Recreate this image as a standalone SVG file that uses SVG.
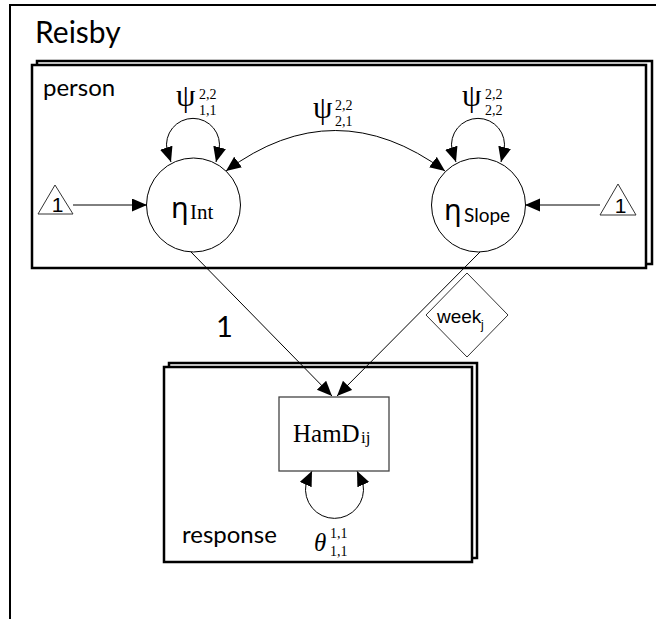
<svg xmlns="http://www.w3.org/2000/svg" width="656" height="619" viewBox="0 0 656 619">
<defs>
<style>
.plate{fill:#fff;stroke:#000;stroke-width:2.5}
.frame{fill:none;stroke:#000;stroke-width:2}
.lat{fill:#fff;stroke:#000;stroke-width:1}
.obs{fill:#fff;stroke:#444;stroke-width:1.3}
.tri{fill:#fff;stroke:#333;stroke-width:1}
.edge{fill:none;stroke:#000;stroke-width:1}
.sans{font-family:Lato,"Noto Sans",sans-serif;fill:#000}
.arial{font-family:"Liberation Sans",Arial,sans-serif;fill:#000}
.serif{font-family:"Liberation Serif","DejaVu Serif",serif;fill:#000}
.greek{font-family:"Noto Sans","DejaVu Sans",sans-serif;fill:#000}
.psi{font-size:31px}
.idx{font-size:14px}
</style>
<marker id="ah" markerUnits="userSpaceOnUse" markerWidth="17" markerHeight="15" refX="15" refY="6.5" orient="auto-start-reverse" viewBox="0 0 17 15">
<path d="M0,0 L15,6.5 L0,13 z" fill="#000"/>
</marker>
</defs>
<rect width="656" height="619" fill="#fff"/>
<g id="frame">
<rect class="frame" x="10" y="5" width="660" height="640"/>
<text class="sans" x="35" y="43" font-size="30">Reisby</text>
</g>
<g id="plate-person">
<rect class="plate" x="37" y="61" width="615" height="203"/>
<rect class="plate" x="32" y="65" width="614" height="203"/>
<text class="sans" x="43" y="96" font-size="24">person</text>
</g>
<g id="plate-response">
<rect class="plate" x="169" y="363" width="308" height="195"/>
<rect class="plate" x="164" y="367" width="308" height="195"/>
<text class="sans" x="182" y="543" font-size="24">response</text>
</g>
<g id="connectors">
<path class="edge" d="M73 205 L147 205" marker-end="url(#ah)"/>
<path class="edge" d="M600 205 L525 205" marker-end="url(#ah)"/>
<path class="edge" d="M171 162 L167 150 A26.5 26.5 0 1 1 219 150 L216 162" marker-start="url(#ah)" marker-end="url(#ah)"/>
<path class="edge" d="M456 162 L452 150 A26.5 26.5 0 1 1 504 150 L501 162" marker-start="url(#ah)" marker-end="url(#ah)"/>
<path class="edge" d="M226 171 Q335 90 445 171" marker-start="url(#ah)" marker-end="url(#ah)"/>
<path class="edge" d="M191 252 L332 396" marker-end="url(#ah)"/>
<path class="edge" d="M480 252 L337 396" marker-end="url(#ah)"/>
<path class="edge" d="M312 471 L306 484 A29 29 0 1 0 363 484 L357 471" marker-start="url(#ah)" marker-end="url(#ah)"/>
<text class="sans" x="216" y="337" font-size="29">1</text>
</g>
<g id="one-left">
<polygon class="tri" points="55,185 38,214 73,214"/>
<text class="arial" x="57.5" y="212" font-size="21" text-anchor="middle">1</text>
</g>
<g id="one-right">
<polygon class="tri" points="618,184 600,215 636,215"/>
<text class="arial" x="620.5" y="213" font-size="21" text-anchor="middle">1</text>
</g>
<g id="eta-int">
<circle class="lat" cx="193.5" cy="205" r="47"/>
<text class="greek" x="171" y="218" font-size="29">η</text>
<text class="serif" x="190" y="219" font-size="21">Int</text>
</g>
<g id="eta-slope">
<circle class="lat" cx="478.5" cy="205" r="47"/>
<text class="greek" x="444" y="220" font-size="29">η</text>
<text class="sans" x="464" y="222" font-size="19">Slope</text>
</g>
<g id="psi11">
<text class="serif"><tspan class="psi" x="176" y="106">ψ</tspan><tspan class="idx" x="199" y="99">2,2</tspan><tspan class="idx" x="199" y="115">1,1</tspan></text>
</g>
<g id="psi21">
<text class="serif"><tspan class="psi" x="313" y="118">ψ</tspan><tspan class="idx" x="335" y="110">2,2</tspan><tspan class="idx" x="335" y="126">2,1</tspan></text>
</g>
<g id="psi22">
<text class="serif"><tspan class="psi" x="462" y="106">ψ</tspan><tspan class="idx" x="485" y="99">2,2</tspan><tspan class="idx" x="485" y="115">2,2</tspan></text>
</g>
<g id="week">
<polygon class="tri" points="467,273 508,315 467,357 426,315"/>
<text class="arial" x="437" y="323" font-size="19">week</text>
<text class="arial" x="481" y="329" font-size="12">j</text>
</g>
<g id="hamd">
<rect class="obs" x="279" y="397" width="110" height="74"/>
<text class="serif" x="293" y="442" font-size="25">HamD</text>
<text class="serif" x="361" y="443" font-size="17">ij</text>
</g>
<g id="theta">
<text class="serif"><tspan x="314" y="551" font-size="25" font-style="italic">θ</tspan><tspan x="330" y="538" font-size="14">1,1</tspan><tspan x="330" y="556" font-size="14">1,1</tspan></text>
</g>
</svg>
